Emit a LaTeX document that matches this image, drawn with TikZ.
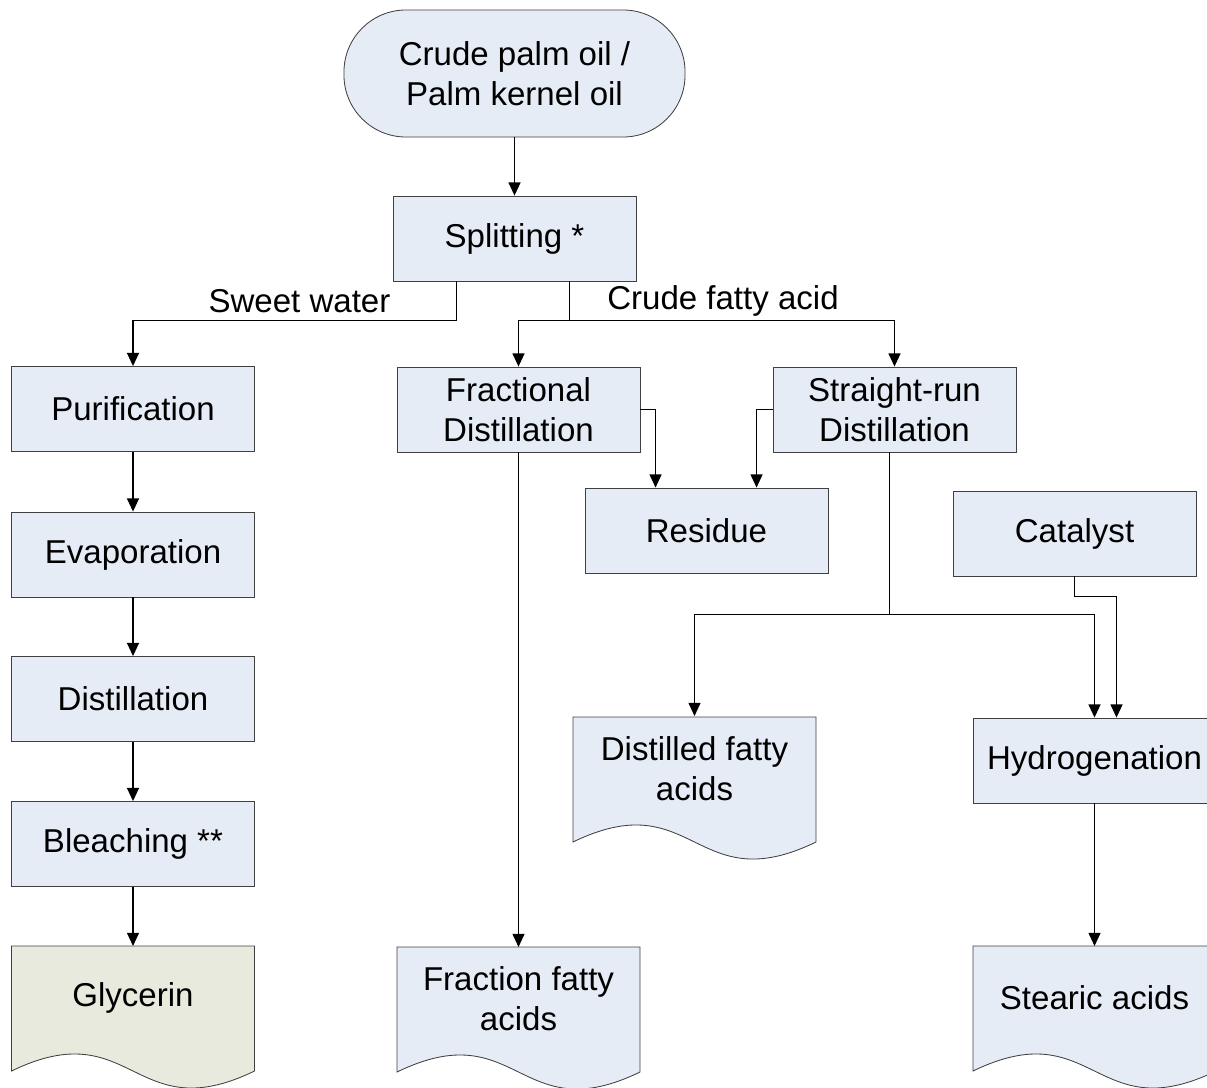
\documentclass[tikz,border=0pt]{standalone}
\usepackage{fontspec}
\setmainfont{Liberation Sans}
\usetikzlibrary{arrows.meta,calc,backgrounds}
\definecolor{boxfill}{HTML}{E6ECF6}
\definecolor{glyfill}{HTML}{E9EADE}
\definecolor{boxline}{HTML}{404040}
\newcommand{\docoutline}[2]{%
  \draw[docline,fill=#2] ($(#1.center)+(-121.5,-52)$) -- ($(#1.center)+(121.5,-52)$)
    -- ($(#1.center)+(121.5,73)$) .. controls ($(#1.center)+(0,132)$) and ($(#1.center)+(0,14)$)
    .. ($(#1.center)+(-121.5,73)$) -- cycle;}
\begin{document}
\begin{tikzpicture}[x=0.025cm,y=-0.025cm,
  font=\fontsize{23.5pt}{28.4pt}\selectfont,
  procbox/.style={rectangle,draw=boxline,fill=boxfill,line width=0.6pt,
    minimum width=6.075cm,minimum height=2.125cm,inner sep=0pt,align=center},
  termbox/.style={rectangle,rounded corners=1.55cm,draw=boxline,fill=boxfill,line width=0.6pt,
    minimum width=8.525cm,minimum height=3.175cm,inner sep=0pt,align=center},
  doctext/.style={align=center,inner sep=0pt},
  docline/.style={draw=boxline,line width=0.6pt},
  conn/.style={draw=black,line width=0.95pt},
  arr/.style={conn,-{Triangle[length=0.33cm,width=0.3cm]}},
  lbl/.style={inner sep=0pt}]
\useasboundingbox (0,0) rectangle (1207,1087);

% process nodes
\node[termbox] (start) at (514.5,73.5) {Crude palm oil /\\Palm kernel oil};
\node[procbox] (split) at (514.5,238.5) {Splitting *};
\node[procbox] (purif) at (133,409) {Purification};
\node[procbox] (evap) at (133,554.5) {Evaporation};
\node[procbox] (dist) at (133,699) {Distillation};
\node[procbox] (bleach) at (133,844) {Bleaching **};
\node[procbox] (frac) at (518.5,409.5) {Fractional\\Distillation};
\node[procbox] (straight) at (894.5,409.5) {Straight-run\\Distillation};
\node[procbox] (residue) at (706.5,530.5) {Residue};
\node[procbox] (cat) at (1074.5,533.5) {Catalyst};
\node[procbox] (hydro) at (1094.5,760.5) {Hydrogenation};

% document nodes (text), outlines drawn on the background layer
\node[doctext] (gly) at (133,998) {Glycerin};
\node[doctext] (ffa) at (518.5,999) {Fraction fatty\\acids};
\node[doctext] (dfa) at (694.5,769) {Distilled fatty\\acids};
\node[doctext] (sa) at (1094.5,998) {Stearic acids};
\begin{pgfonlayer}{background}
  \docoutline{gly}{glyfill}
  \docoutline{ffa}{boxfill}
  \docoutline{dfa}{boxfill}
  \docoutline{sa}{boxfill}
\end{pgfonlayer}

% labels
\node[lbl] (swl) at (299.5,301) {Sweet water};
\node[lbl] (cfl) at (723,301) {Crude fatty acid};

% connectors
\draw[arr] (start.south) -- (split.north);
\draw[arr] ($(split.south west)+(64,0)$) -- ++(0,39) -| (purif.north);
\draw[arr] ($(split.south west)+(177,0)$) -- ++(0,39) -| (frac.north);
\draw[arr] ($(split.south west)+(177,39)$) -| (straight.north);
\draw[arr] (purif.south) -- (evap.north);
\draw[arr] (evap.south) -- (dist.north);
\draw[arr] (dist.south) -- (bleach.north);
\draw[arr] (bleach.south) -- ($(gly.center)+(0,-52)$);
\draw[arr] (frac.east) -| ($(residue.north west)+(71,0)$);
\draw[arr] (straight.west) -| ($(residue.north west)+(172,0)$);
\draw[arr] (frac.south) -- ($(ffa.center)+(0,-52)$);
\coordinate (jn) at ($(straight.south west)+(117,162)$);
\draw[conn] ($(straight.south west)+(117,0)$) -- (jn);
\draw[arr] (jn) -| ($(dfa.center)+(0,-53)$);
\draw[arr] (jn) -| (hydro.north);
\draw[arr] (cat.south) -- ++(0,20) -| ($(hydro.north)+(22,0)$);
\draw[arr] (hydro.south) -- ($(sa.center)+(0,-52)$);
\end{tikzpicture}
\end{document}
